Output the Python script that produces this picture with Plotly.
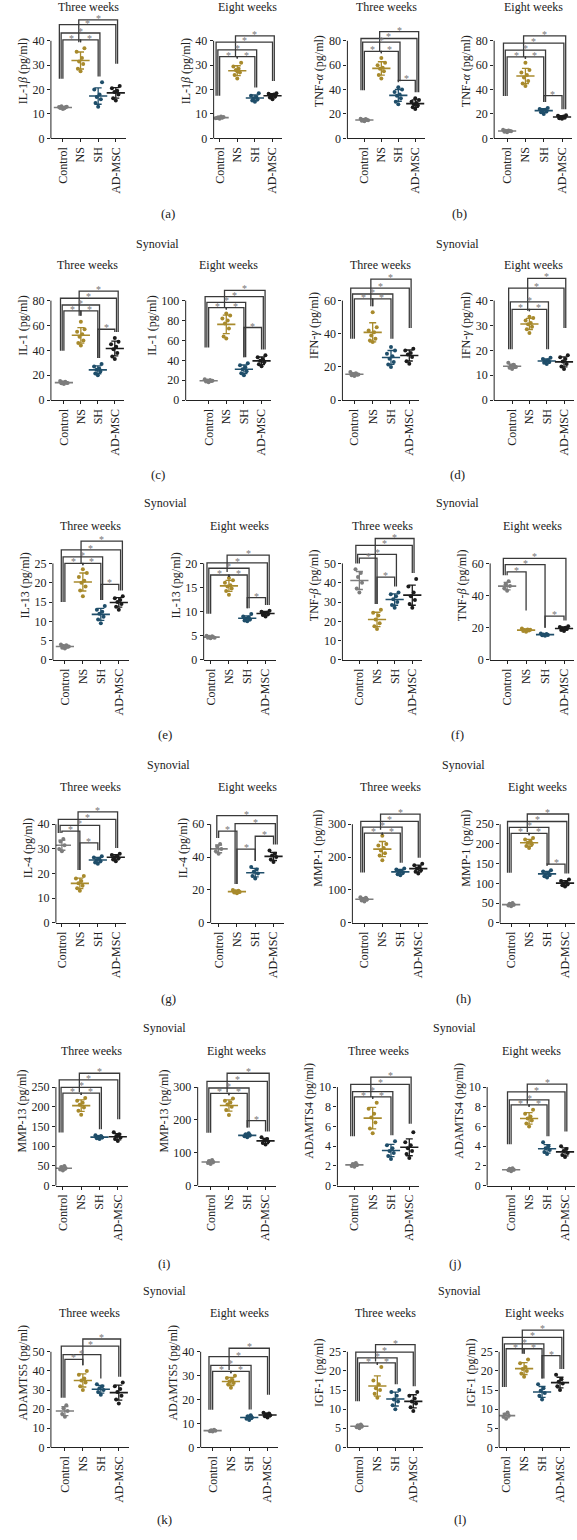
import numpy as np
import plotly.graph_objects as go

W, H = 577, 1540
GROUPS = ["Control", "NS", "SH", "AD-MSC"]
GROUP_COLORS = ["#7d7d7d", "#a88a2c", "#1f4e6a", "#1b1b1b"]
FONT = "Liberation Serif"

# ---------------- data (pg/ml): [Control, NS, SH, AD-MSC] ----------------
IL1B_3W = [[12.0, 12.5, 12.8, 13.2, 12.3, 12.9, 13.0],
           [27.5, 28.5, 30.5, 31.5, 33.0, 35.5, 37.0],
           [13.0, 14.5, 16.0, 17.0, 18.0, 20.0, 23.0],
           [15.5, 16.5, 18.0, 19.0, 19.5, 20.5, 21.5]]
IL1B_8W = [[8.0, 8.3, 8.5, 8.7, 9.0, 8.2, 8.8],
           [24.5, 26.0, 27.0, 28.0, 28.5, 29.5, 31.0, 27.5],
           [15.0, 15.5, 16.0, 16.5, 17.0, 17.5, 18.5],
           [16.0, 16.8, 17.2, 17.5, 18.0, 18.3, 18.5]]
TNFA_3W = [[14.0, 14.5, 15.0, 15.3, 15.8, 16.0, 14.8],
           [49, 52, 55, 57, 58, 60, 62, 66],
           [28, 30, 33, 35, 36, 38, 40, 42],
           [24, 25.5, 27, 28, 29, 30, 31.5, 33]]
TNFA_8W = [[5.0, 5.5, 6.0, 6.2, 6.5, 7.0, 5.8],
           [43, 45, 47, 50, 52, 54, 56, 62],
           [20, 21.5, 22, 23, 23.5, 24, 25],
           [16, 16.5, 17, 17.5, 18, 18.5, 19]]
IL1_3W = [[13.0, 13.5, 14.0, 14.3, 14.8, 15.5, 13.8],
          [44, 46, 48, 51, 53, 55, 57, 63],
          [20, 21.5, 23, 24.5, 25.5, 27, 29],
          [33, 35, 38, 41, 43, 45, 47, 50]]
IL1_8W = [[18.0, 18.8, 19.3, 19.8, 20.3, 21.0, 19.5],
          [62, 64, 72, 77, 80, 82, 85, 87],
          [25, 27, 29, 31, 33, 35, 37],
          [34, 36, 38, 39.5, 41, 43, 45]]
IFNG_3W = [[14.5, 15.0, 15.3, 15.8, 16.2, 17.0, 15.5],
           [35, 36, 37, 39, 41, 42, 44, 53],
           [20, 21.5, 23, 25, 26.5, 28, 30, 32],
           [22, 23.5, 26, 27.5, 28.5, 30, 31]]
IFNG_8W = [[12.5, 13.0, 13.5, 13.8, 14.2, 15.0, 13.3],
           [27, 28.5, 29.5, 30.5, 31, 32, 33, 33.5],
           [14.5, 15.0, 15.3, 15.7, 16.0, 16.5, 17.0],
           [12.5, 13.5, 14.5, 15.5, 16.5, 17.2, 18.0]]
IL13_3W = [[3.0, 3.2, 3.4, 3.6, 3.8, 4.0, 3.5],
           [16.5, 18, 19, 20, 20.5, 21.5, 22.5, 23.5],
           [9.5, 10.5, 11.2, 12, 12.5, 13, 14],
           [13, 13.8, 14.5, 15, 15.5, 16, 16.5]]
IL13_8W = [[4.5, 4.6, 4.7, 4.8, 4.9, 5.0, 4.6],
           [13.5, 14.3, 14.8, 15.2, 15.5, 16, 16.5, 17],
           [8.0, 8.2, 8.4, 8.6, 8.8, 9.0, 9.5],
           [9.0, 9.3, 9.5, 9.6, 9.8, 10.0, 10.2]]
TNFB_3W = [[35, 37, 40, 43, 45, 47],
           [16, 17.5, 19, 21, 23, 24.5, 26],
           [27, 28.5, 30, 31.5, 33, 34, 35],
           [27, 29, 31, 33, 35, 38, 42]]
TNFB_8W = [[43, 44.5, 46, 47, 49],
           [17.5, 18, 18.3, 18.6, 19, 19.5, 18.8],
           [15, 15.3, 15.6, 15.8, 16.2, 16.5],
           [18, 18.7, 19.2, 19.6, 20, 20.5, 21]]
IL4_3W = [[29, 30, 31.5, 33, 34],
          [13, 14, 15, 16, 17, 18, 19],
          [24, 24.5, 25, 25.5, 26, 26.5, 27],
          [25, 25.7, 26.2, 26.6, 27, 27.5, 28]]
IL4_8W = [[42, 43.5, 45, 46.5, 48],
          [18, 18.5, 18.8, 19.2, 19.5, 20],
          [27, 28.5, 30, 31, 32.5, 34],
          [37, 38.5, 40, 41, 42, 44]]
MMP1_3W = [[65, 68, 71, 73, 76, 78],
           [190, 205, 212, 220, 228, 235, 240, 265],
           [145, 148, 152, 155, 158, 162, 165],
           [150, 155, 160, 165, 170, 175, 180]]
MMP1_8W = [[42, 44, 46, 48, 50],
           [190, 195, 199, 203, 207, 211, 215],
           [115, 118, 121, 124, 127, 130, 133],
           [92, 95, 98, 100, 103, 106, 110]]
MMP13_3W = [[38, 41, 44, 47, 50],
            [180, 190, 198, 205, 210, 215, 222],
            [118, 120, 122, 124, 126, 128],
            [113, 118, 122, 126, 130, 135]]
MMP13_8W = [[66, 69, 72, 75, 78],
            [215, 230, 240, 247, 253, 258, 265],
            [147, 150, 153, 156, 159],
            [125, 130, 134, 138, 142, 147]]
ADAMTS4_3W = [[1.9, 2.0, 2.1, 2.2, 2.3],
              [5.3, 5.8, 6.4, 6.9, 7.3, 7.8, 8.4],
              [2.7, 3.0, 3.3, 3.5, 3.8, 4.1, 4.5],
              [2.8, 3.2, 3.5, 3.8, 4.1, 4.4, 5.4]]
ADAMTS4_8W = [[1.45, 1.55, 1.6, 1.7, 1.75],
              [6.0, 6.3, 6.6, 6.8, 7.0, 7.3, 7.7],
              [3.2, 3.4, 3.6, 3.8, 4.0, 4.4],
              [2.9, 3.1, 3.3, 3.5, 3.7, 4.0]]
ADAMTS5_3W = [[16, 17.5, 19, 20.5, 22],
              [30, 32, 34, 35, 36, 38, 40],
              [27.5, 29, 30, 31, 32, 33],
              [23, 25, 27, 29, 30.5, 32, 34]]
ADAMTS5_8W = [[6.6, 6.8, 7.0, 7.2, 7.4],
              [25, 26.3, 27, 27.6, 28.2, 29, 30],
              [11.5, 12, 12.5, 13, 13.5],
              [12.5, 13, 13.4, 13.8, 14.2, 14.5]]
IGF1_3W = [[5.0, 5.3, 5.5, 5.8, 6.0],
           [13, 14, 15, 15.5, 16.5, 17.5, 21],
           [10, 11, 12, 12.5, 13.5, 14.5, 15],
           [9.5, 10.5, 11.5, 12, 12.8, 13.5, 14.5]]
IGF1_8W = [[7.5, 8.0, 8.3, 8.6, 9.1],
           [18.5, 19.3, 20, 20.5, 21, 22, 23],
           [12.5, 13.5, 14.2, 14.8, 15.5, 16.5],
           [15, 16, 16.7, 17.2, 17.8, 19]]

# significance comparisons: (group i, group j, bracket height in pg/ml)
IL1B_3W_SIG = [(0, 1, 40.4), (1, 2, 40.4), (0, 2, 43.2), (0, 3, 46.6), (1, 3, 48.6)]
IL1B_8W_SIG = [(0, 1, 33.5), (1, 2, 33.5), (0, 2, 36.3), (0, 3, 39.5), (1, 3, 42)]
TNFA_3W_SIG = [(0, 1, 71.4), (1, 2, 71.4), (0, 2, 78.9), (0, 3, 81.9), (1, 3, 87.6), (2, 3, 47.6)]
TNFA_8W_SIG = [(0, 1, 66.8), (1, 2, 66.8), (0, 2, 72.3), (0, 3, 78.1), (1, 3, 84), (2, 3, 35)]
IL1_3W_SIG = [(0, 1, 71.7), (1, 2, 71.7), (0, 2, 76.5), (0, 3, 81.9), (1, 3, 87.7), (2, 3, 57)]
IL1_8W_SIG = [(0, 1, 93), (1, 2, 93), (0, 2, 98.3), (0, 3, 104), (1, 3, 110.3), (2, 3, 73)]
IFNG_3W_SIG = [(0, 1, 61), (1, 2, 61), (0, 2, 64), (0, 3, 67.5), (1, 3, 73)]
IFNG_8W_SIG = [(0, 1, 36.5), (1, 2, 36.5), (0, 2, 39.5), (0, 3, 45), (1, 3, 48.9)]
IL13_3W_SIG = [(0, 1, 25), (1, 2, 25), (0, 2, 26.7), (0, 3, 28.5), (1, 3, 30.8), (2, 3, 19.6)]
IL13_8W_SIG = [(0, 1, 17.6), (1, 2, 17.6), (0, 2, 19), (0, 3, 20.1), (1, 3, 21.7), (2, 3, 12.9)]
TNFB_3W_SIG = [(0, 1, 52.7), (0, 2, 54.7), (0, 3, 59.3), (1, 3, 62.9), (1, 2, 42.9)]
TNFB_8W_SIG = [(0, 1, 54.8), (0, 2, 59.2), (0, 3, 63.2), (2, 3, 27.3)]
IL4_3W_SIG = [(0, 1, 37.2), (0, 2, 39.5), (0, 3, 42), (1, 3, 45), (1, 2, 32.4)]
IL4_8W_SIG = [(0, 1, 55.8), (1, 2, 44.8), (2, 3, 52.7), (1, 3, 60.4), (0, 3, 65.3)]
MMP1_3W_SIG = [(0, 1, 273), (1, 2, 273), (0, 2, 291), (0, 3, 309), (1, 3, 331)]
MMP1_8W_SIG = [(0, 1, 227), (1, 2, 227), (0, 2, 242), (0, 3, 257), (1, 3, 276), (2, 3, 149)]
MMP13_3W_SIG = [(0, 1, 234.6), (1, 2, 234.6), (0, 2, 249), (0, 3, 268), (1, 3, 285)]
MMP13_8W_SIG = [(0, 1, 281), (1, 2, 281), (0, 2, 297), (0, 3, 317), (1, 3, 342), (2, 3, 198)]
ADAMTS4_3W_SIG = [(0, 1, 9), (1, 2, 9), (0, 2, 9.53), (0, 3, 10.27), (1, 3, 11)]
ADAMTS4_8W_SIG = [(0, 1, 8.2), (1, 2, 8.2), (0, 2, 8.7), (0, 3, 9.5), (1, 3, 10.3)]
ADAMTS5_3W_SIG = [(0, 1, 46), (0, 2, 48.5), (0, 3, 53), (1, 3, 56.7)]
ADAMTS5_8W_SIG = [(0, 1, 31.8), (1, 2, 31.8), (0, 2, 34.3), (0, 3, 38), (1, 3, 41.5)]
IGF1_3W_SIG = [(0, 1, 22.1), (1, 2, 22.1), (0, 2, 23.4), (0, 3, 24.9), (1, 3, 26.9)]
IGF1_8W_SIG = [(0, 1, 25.8), (1, 2, 25.8), (0, 2, 27.1), (0, 3, 28.8), (1, 3, 30.7), (2, 3, 24)]

Y_LABELS = ["IL-1<i>β</i> (pg/ml)", "TNF-<i>α</i> (pg/ml)", "IL-1 (pg/ml)", "IFN-<i>γ</i> (pg/ml)",
            "IL-13 (pg/ml)", "TNF-<i>β</i> (pg/ml)", "IL-4 (pg/ml)", "MMP-1 (pg/ml)",
            "MMP-13 (pg/ml)", "ADAMTS4 (pg/ml)", "ADAMTS5 (pg/ml)", "IGF-1 (pg/ml)"]
Y_TOP = [40, 40, 80, 80, 80, 100, 60, 40, 25, 20, 50, 60,
         40, 60, 300, 250, 250, 300, 10, 10, 50, 40, 25, 25]
Y_STEP = [10, 10, 20, 20, 20, 20, 20, 10, 5, 5, 10, 20,
          10, 20, 100, 50, 50, 100, 2, 2, 10, 10, 5, 5]
TIMES = ["Three weeks", "Eight weeks"]
PANEL_LETTERS = list("abcdefghijkl")

DATASETS = [IL1B_3W, IL1B_8W, TNFA_3W, TNFA_8W, IL1_3W, IL1_8W, IFNG_3W, IFNG_8W,
            IL13_3W, IL13_8W, TNFB_3W, TNFB_8W, IL4_3W, IL4_8W, MMP1_3W, MMP1_8W,
            MMP13_3W, MMP13_8W, ADAMTS4_3W, ADAMTS4_8W, ADAMTS5_3W, ADAMTS5_8W, IGF1_3W, IGF1_8W]
SIGS = [IL1B_3W_SIG, IL1B_8W_SIG, TNFA_3W_SIG, TNFA_8W_SIG, IL1_3W_SIG, IL1_8W_SIG,
        IFNG_3W_SIG, IFNG_8W_SIG, IL13_3W_SIG, IL13_8W_SIG, TNFB_3W_SIG, TNFB_8W_SIG,
        IL4_3W_SIG, IL4_8W_SIG, MMP1_3W_SIG, MMP1_8W_SIG, MMP13_3W_SIG, MMP13_8W_SIG,
        ADAMTS4_3W_SIG, ADAMTS4_8W_SIG, ADAMTS5_3W_SIG, ADAMTS5_8W_SIG, IGF1_3W_SIG, IGF1_8W_SIG]

# ---------------- layout geometry (pixels) ----------------
# (y-axis x, Control x, AD-MSC x)
AXIS_PX = [(50, 62, 115), (213, 219, 272), (347, 364, 415), (494, 507, 562),
           (50, 63, 114), (185, 208, 261), (342, 354, 409), (494, 512, 564),
           (52, 64, 118), (203, 210, 265), (342, 359, 412), (490, 507, 564),
           (55, 61, 115), (210, 218, 273), (352, 364, 418), (500, 511, 565),
           (55, 62, 117), (197, 210, 265), (337, 354, 409), (487, 511, 565),
           (50, 64, 118), (200, 212, 267), (347, 359, 413), (499, 506, 560)]
ROW_ZERO = [139, 402, 663, 927, 1191, 1454]
ROW_TICKPX = [98, 100, 97, 99, 99, 96]
ROW_DOMPX = [135, 150, 150, 150, 150, 150]
ROW_TITLE_Y = [7, 266, 528, 791, 1056, 1319]
ROW_HEADER_Y = [None, 245, 505, 768, 1033, 1297]
ROW_LETTER_Y = [214, 477, 738, 1003, 1269, 1526]
JITTER = [0.0, -0.15, 0.15, -0.08, 0.08, -0.22, 0.22, 0.0]
FS = 12

fig = go.Figure()
layout = dict(width=W, height=H, margin=dict(l=0, r=0, t=0, b=0),
              paper_bgcolor="white", plot_bgcolor="rgba(0,0,0,0)", showlegend=False,
              font=dict(family=FONT, size=FS, color="#222"))
shapes, annotations = [], []
centers = []

for k in range(24):
    data, sig = DATASETS[k], SIGS[k]
    T, dt = Y_TOP[k], Y_STEP[k]
    r = k // 4
    ax_px, c_px, a_px = AXIS_PX[k]
    s = (a_px - c_px) / 3.0
    x_lo = -(c_px - ax_px) / s
    x_hi = 3.55
    right_px = ax_px + (x_hi - x_lo) * s
    zero, tpx, dpx = ROW_ZERO[r], ROW_TICKPX[r], ROW_DOMPX[r]
    ymax = T * dpx / tpx
    xd = [ax_px / W, right_px / W]
    yd = [1 - zero / H, 1 - (zero - dpx) / H]
    n = k + 1
    sfx = "" if n == 1 else str(n)
    xa, ya = "x" + sfx, "y" + sfx
    layout["xaxis" + sfx] = dict(domain=xd, range=[x_lo, x_hi], anchor=ya,
                                 tickvals=[0, 1, 2, 3], ticktext=GROUPS, tickangle=-90,
                                 showline=True, linecolor="#222", linewidth=1,
                                 ticks="outside", ticklen=3, tickcolor="#222",
                                 showgrid=False, zeroline=False, fixedrange=True,
                                 tickfont=dict(size=FS, color="#222"))
    layout["yaxis" + sfx] = dict(domain=yd, range=[0, ymax], anchor=xa,
                                 tickvals=list(np.arange(0, T + dt / 2, dt)),
                                 ticks="outside", ticklen=3, tickcolor="#222",
                                 showline=False, showgrid=False, zeroline=False, fixedrange=True,
                                 tickfont=dict(size=FS, color="#222"),
                                 title=dict(text=Y_LABELS[k // 2], font=dict(size=FS, color="#222"), standoff=2))
    # y-axis line only up to top tick
    shapes.append(dict(type="line", xref="paper", yref="paper", x0=xd[0], x1=xd[0],
                       y0=yd[0], y1=yd[0] + (T / ymax) * (yd[1] - yd[0]),
                       line=dict(color="#222", width=1)))

    gmax = [max(d) for d in data]
    for g in range(4):
        vals = np.array(data[g], dtype=float)
        xs = g + np.array([JITTER[i % len(JITTER)] for i in range(len(vals))])
        col = GROUP_COLORS[g]
        fig.add_trace(go.Scatter(x=xs, y=vals, xaxis=xa, yaxis=ya, mode="markers",
                                 marker=dict(size=4, color=col), hoverinfo="skip"))
        m, sd = vals.mean(), vals.std(ddof=1)
        fig.add_trace(go.Scatter(x=[g], y=[m], xaxis=xa, yaxis=ya, mode="markers",
                                 marker=dict(symbol="line-ew", size=13, color=col,
                                             line=dict(width=1.6, color=col)),
                                 error_y=dict(type="data", array=[sd], color=col,
                                              thickness=1.3, width=3.5),
                                 hoverinfo="skip"))

    # significance brackets
    minlev = {}
    for (i, j, h) in sig:
        for g in (i, j):
            minlev[g] = min(minlev.get(g, 1e9), h)
    ybot = {g: max(gmax[g] + 0.06 * T, minlev[g] - 0.4 * T) for g in minlev}
    for (i, j, h) in sig:
        rl = sum(1 for (a, b, hh) in sig if a == i and hh < h)
        rr = sum(1 for (a, b, hh) in sig if b == j and hh < h)
        xl = i - 0.1 * rl
        xr = j + 0.1 * rr
        yl = min(ybot[i], h - 0.02 * T)
        yr = min(ybot[j], h - 0.02 * T)
        shapes.append(dict(type="path", xref=xa, yref=ya,
                           path=f"M {xl},{yl} L {xl},{h} L {xr},{h} L {xr},{yr}",
                           line=dict(color="#3a3a3a", width=1.3)))
        annotations.append(dict(xref=xa, yref=ya, x=(xl + xr) / 2, y=h, text="*",
                                showarrow=False, yanchor="bottom", yshift=-5, borderpad=0,
                                font=dict(size=10, color="#777")))

    cx = (ax_px + right_px) / 2
    centers.append(cx)
    annotations.append(dict(xref="paper", yref="paper", x=cx / W, y=1 - ROW_TITLE_Y[r] / H,
                            text=TIMES[k % 2], showarrow=False, xanchor="center", yanchor="middle",
                            borderpad=0, font=dict(size=FS, color="#222")))

for r in range(6):
    for p in range(2):
        c = (centers[r * 4 + 2 * p] + centers[r * 4 + 2 * p + 1]) / 2
        if ROW_HEADER_Y[r] is not None:
            annotations.append(dict(xref="paper", yref="paper", x=c / W, y=1 - ROW_HEADER_Y[r] / H,
                                    text="Synovial", showarrow=False, xanchor="center", yanchor="middle",
                                    font=dict(size=FS, color="#222")))
        annotations.append(dict(xref="paper", yref="paper", x=c / W, y=1 - ROW_LETTER_Y[r] / H,
                                text=f"({PANEL_LETTERS[2 * r + p]})", showarrow=False,
                                xanchor="center", yanchor="middle", font=dict(size=FS + 1, color="#222")))

layout["shapes"] = shapes
layout["annotations"] = annotations
fig.update_layout(**layout)
fig.write_html("out.html", config={"displayModeBar": False},
               post_script="document.body.style.margin='0';document.body.style.overflow='hidden';")
